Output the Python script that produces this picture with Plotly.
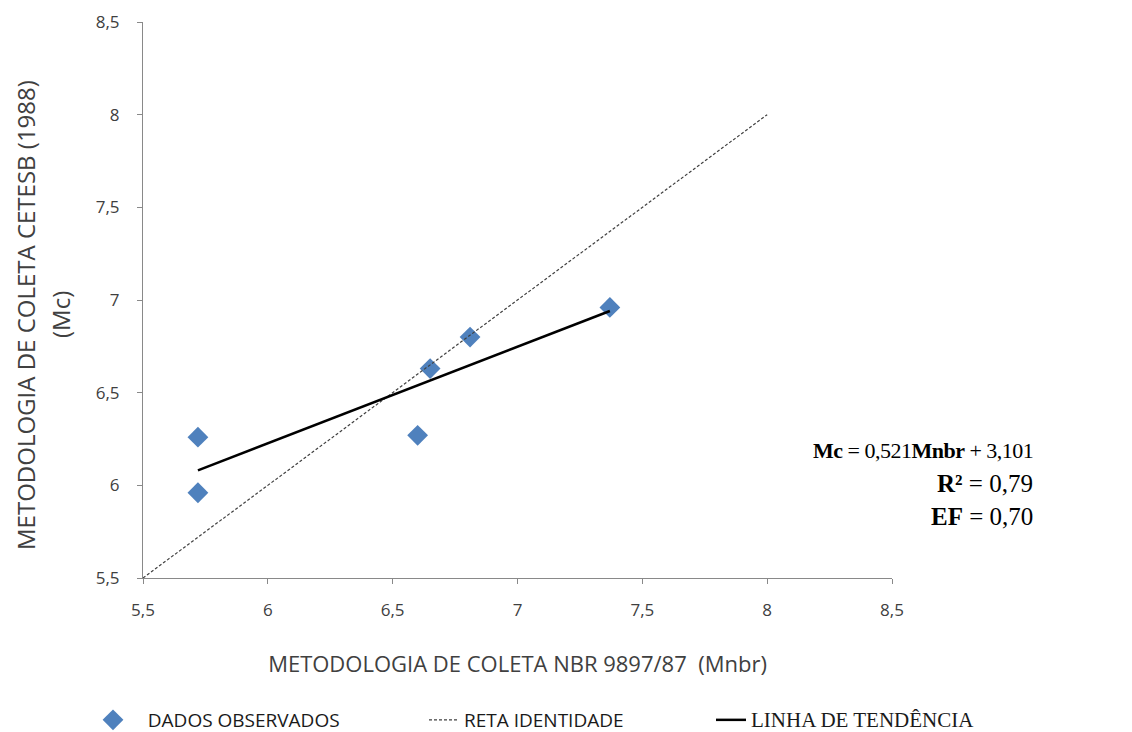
import plotly.graph_objects as go

# Observed pairs: NBR 9897/87 method (x) vs CETESB 1988 method (y)
mnbr = [5.72, 5.72, 6.60, 6.65, 6.81, 7.37]
mc = [6.26, 5.96, 6.27, 6.63, 6.80, 6.96]

# Identity line endpoints
ident_x = [5.5, 8.0]
ident_y = [5.5, 8.0]

# Fitted trend: Mc = 0.521 * Mnbr + 3.101
slope = 0.521
intercept = 3.101
trend_x = [min(mnbr), max(mnbr)]
trend_y = [slope * v + intercept for v in trend_x]

tick_vals = [5.5, 6, 6.5, 7, 7.5, 8, 8.5]

# Statistics shown beside the plot
eq_lines = [
    '<span style="letter-spacing:-0.5px"><b>Mc</b> = 0,521<b>Mnbr</b> + 3,101</span>',
    '<b>R²</b> = 0,79',
    '<b>EF</b> = 0,70',
]
eq_sizes = [22, 25, 25]

y_title_lines = ["METODOLOGIA DE COLETA CETESB (1988)", "(Mc)"]

SANS = "Open Sans, Liberation Sans, sans-serif"
SERIF = "Liberation Serif, Times New Roman, serif"
NBSP = "\u00a0"

fig = go.Figure()

fig.add_trace(go.Scatter(
    x=mnbr, y=mc, mode="markers", name=NBSP * 3 + "DADOS OBSERVADOS",
    marker=dict(symbol="diamond", size=16, color="#4F81BD",
                line=dict(width=0)),
    legend="legend", showlegend=True,
))
fig.add_trace(go.Scatter(
    x=ident_x, y=ident_y, mode="lines", name="RETA IDENTIDADE",
    line=dict(color="#404040", width=1.2, dash="3px,2px"),
    legend="legend2", showlegend=True,
))
fig.add_trace(go.Scatter(
    x=trend_x, y=trend_y, mode="lines",
    name=f'<span style="font-family:{SERIF};font-size:21px">LINHA DE TENDÊNCIA</span>',
    line=dict(color="black", width=2.5),
    legend="legend3", showlegend=True,
))

axis_common = dict(
    range=[5.5, 8.5], tickvals=tick_vals,
    showgrid=False, zeroline=False,
    showline=True, linecolor="#898989", linewidth=1,
    ticks="outside", ticklen=5, tickcolor="#898989",
    tickfont=dict(family=SANS, size=17, color="#404040"),
)

legend_common = dict(
    orientation="h", xref="container", yref="container",
    yanchor="middle", y=1 - 720 / 732, xanchor="left",
    bgcolor="rgba(0,0,0,0)", visible=True,
    font=dict(family=SANS, size=19, color="#1a1a1a"),
)

annotations = []
for i, (txt, sz) in enumerate(zip(eq_lines, eq_sizes)):
    yc = 450 + 33 * i
    annotations.append(dict(
        xref="paper", yref="paper",
        x=(1035 - 143) / 749, y=(578 - yc) / 556,
        xanchor="right", yanchor="middle", align="right",
        showarrow=False, text=txt,
        font=dict(family=SERIF, size=sz, color="black"),
    ))

# Two-line vertical axis title
for txt, px in zip(y_title_lines, [25, 60]):
    annotations.append(dict(
        xref="paper", yref="paper",
        x=(px - 143) / 749, y=(578 - 315) / 556,
        xanchor="center", yanchor="middle", textangle=-90,
        showarrow=False, text=txt,
        font=dict(family=SANS, size=24, color="#404040"),
    ))

fig.update_layout(
    width=1132, height=732,
    margin=dict(l=143, r=240, t=22, b=154, autoexpand=False),
    paper_bgcolor="white", plot_bgcolor="white",
    separators=", ",
    showlegend=True,
    xaxis=dict(**axis_common, ticklabelstandoff=12,
               title=dict(text="METODOLOGIA DE COLETA NBR 9897/87  (Mnbr)",
                          font=dict(family=SANS, size=22, color="#404040"),
                          standoff=36)),
    yaxis=dict(**axis_common, ticklabelstandoff=14),
    legend=dict(**legend_common, x=93 / 1132),
    legend2=dict(**legend_common, x=424 / 1132),
    legend3=dict(**legend_common, x=711 / 1132),
    annotations=annotations,
)

fig.write_html("out.html")
